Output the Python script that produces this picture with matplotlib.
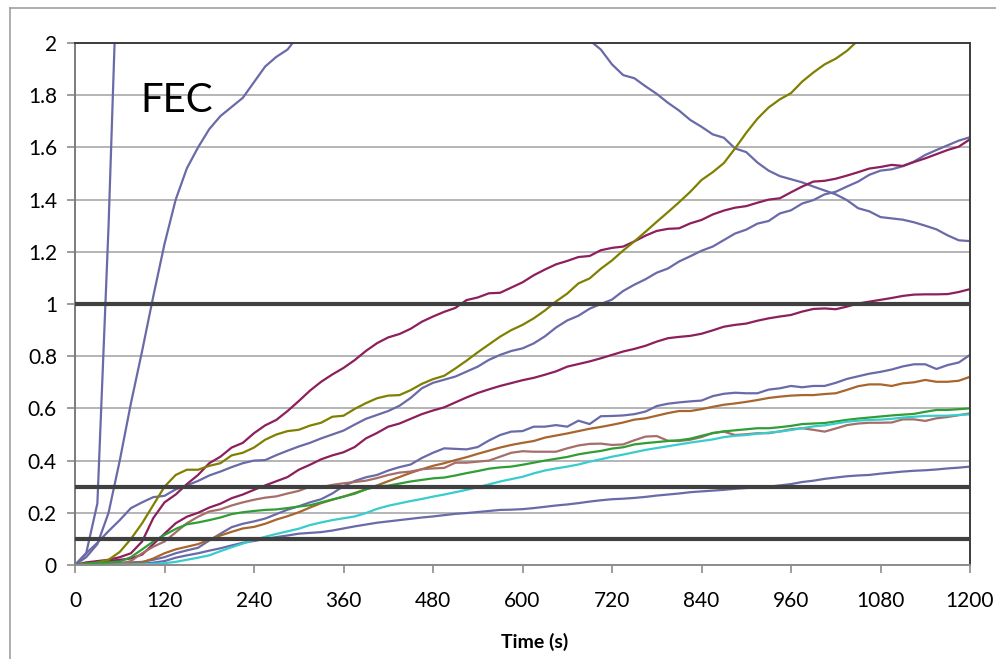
import numpy as np
import matplotlib
matplotlib.use("Agg")
import matplotlib.pyplot as plt
from matplotlib.lines import Line2D

plt.rcParams['font.family'] = ['Lato', 'DejaVu Sans']

# sample times (s)
time = list(range(0, 1201, 15))

# steep blue series (leaves the plot at the top)
steep_t = [0, 15, 30, 45, 60]
steep = [0, 0.045, 0.236, 1.3, 2.6]

# saturating blue series (first part, leaves at the top)
sat_t = list(range(0, 316, 15))
sat = [0, 0.03, 0.08, 0.2, 0.4, 0.62, 0.82, 1.03,
       1.23, 1.4, 1.52, 1.6, 1.67, 1.72, 1.755, 1.79,
       1.85, 1.91, 1.947, 1.975, 2.03, 2.08]

# descending blue series (re-enters from the top)
desc_t = list(range(675, 1201, 15))
desc = [2.05, 2.01, 1.975, 1.918, 1.877, 1.865, 1.834, 1.805, 1.771, 1.741,
        1.705, 1.679, 1.65, 1.637, 1.596, 1.582, 1.542, 1.511, 1.49, 1.478,
        1.466, 1.45, 1.435, 1.42, 1.398, 1.367, 1.355, 1.333, 1.328, 1.323,
        1.313, 1.3, 1.286, 1.263, 1.244, 1.241]

olive = [0, 0.005, 0.01, 0.02, 0.05, 0.10, 0.16, 0.23,
         0.30, 0.345, 0.365, 0.365, 0.38, 0.39, 0.42, 0.43,
         0.45, 0.48, 0.50, 0.513, 0.518, 0.534, 0.545, 0.568,
         0.572, 0.598, 0.62, 0.639, 0.649, 0.651, 0.67, 0.694,
         0.712, 0.725, 0.753, 0.783, 0.815, 0.845, 0.875, 0.9,
         0.92, 0.945, 0.975, 1.01, 1.04, 1.079, 1.098, 1.135,
         1.167, 1.205, 1.24, 1.277, 1.315, 1.352, 1.39, 1.43,
         1.475, 1.505, 1.54, 1.596, 1.656, 1.71, 1.753, 1.784,
         1.808, 1.852, 1.887, 1.918, 1.94, 1.97, 2.01, 2.05]

maroon_up = [0, 0.01, 0.015, 0.02, 0.03, 0.045, 0.09, 0.18,
             0.24, 0.27, 0.31, 0.345, 0.39, 0.415, 0.45, 0.468,
             0.505, 0.535, 0.556, 0.59, 0.628, 0.668, 0.702, 0.73,
             0.755, 0.785, 0.82, 0.85, 0.872, 0.885, 0.905, 0.932,
             0.952, 0.97, 0.985, 1.015, 1.025, 1.041, 1.043, 1.063,
             1.083, 1.11, 1.132, 1.152, 1.165, 1.18, 1.184, 1.206,
             1.215, 1.22, 1.24, 1.262, 1.28, 1.288, 1.29, 1.309,
             1.322, 1.343, 1.358, 1.369, 1.375, 1.388, 1.4, 1.405,
             1.428, 1.45, 1.469, 1.472, 1.48, 1.492, 1.505, 1.519,
             1.525, 1.533, 1.529, 1.544, 1.558, 1.574, 1.59, 1.603,
             1.631]

blue_up = [0, 0.045, 0.085, 0.13, 0.172, 0.218, 0.24, 0.26,
           0.265, 0.29, 0.305, 0.322, 0.343, 0.358, 0.375, 0.39,
           0.4, 0.402, 0.421, 0.438, 0.454, 0.468, 0.485, 0.5,
           0.515, 0.538, 0.56, 0.575, 0.59, 0.61, 0.64, 0.677,
           0.698, 0.71, 0.722, 0.741, 0.76, 0.786, 0.805, 0.82,
           0.83, 0.849, 0.876, 0.91, 0.937, 0.955, 0.982, 1.0,
           1.017, 1.05, 1.074, 1.095, 1.12, 1.136, 1.163, 1.183,
           1.204, 1.22, 1.245, 1.27, 1.285, 1.308, 1.318, 1.347,
           1.359, 1.385, 1.398, 1.42, 1.43, 1.45, 1.469, 1.495,
           1.511, 1.516, 1.528, 1.546, 1.571, 1.59, 1.608, 1.626,
           1.639]

maroon_low = [0, 0.005, 0.01, 0.015, 0.02, 0.025, 0.04, 0.08,
              0.12, 0.16, 0.185, 0.2, 0.22, 0.235, 0.256, 0.27,
              0.288, 0.305, 0.321, 0.337, 0.365, 0.384, 0.405, 0.42,
              0.432, 0.452, 0.485, 0.506, 0.53, 0.542, 0.56, 0.578,
              0.592, 0.604, 0.623, 0.642, 0.659, 0.673, 0.686, 0.697,
              0.708, 0.717, 0.729, 0.742, 0.76, 0.77, 0.78, 0.792,
              0.805, 0.818, 0.828, 0.84, 0.856, 0.869, 0.874, 0.878,
              0.886, 0.899, 0.913, 0.92, 0.925, 0.936, 0.945, 0.952,
              0.958, 0.971, 0.981, 0.983, 0.98, 0.99, 1.002, 1.009,
              1.016, 1.023, 1.031, 1.036, 1.037, 1.037, 1.038, 1.046,
              1.057]

blue_mid = [0, 0.002, 0.004, 0.006, 0.008, 0.01, 0.012, 0.02,
            0.03, 0.045, 0.056, 0.066, 0.094, 0.12, 0.145, 0.158,
            0.167, 0.178, 0.195, 0.212, 0.225, 0.24, 0.252, 0.274,
            0.302, 0.322, 0.336, 0.345, 0.362, 0.375, 0.385, 0.41,
            0.43, 0.447, 0.445, 0.443, 0.452, 0.477, 0.498, 0.511,
            0.513, 0.53, 0.53, 0.536, 0.53, 0.553, 0.54, 0.57,
            0.571, 0.573, 0.578, 0.588, 0.609, 0.618, 0.623, 0.627,
            0.63, 0.647, 0.656, 0.66, 0.658, 0.658, 0.672, 0.677,
            0.686, 0.681, 0.686, 0.686, 0.698, 0.713, 0.723, 0.733,
            0.74, 0.749, 0.761, 0.769, 0.769, 0.751, 0.766, 0.776,
            0.805]

brown = [0, 0, 0.001, 0.002, 0.004, 0.006, 0.01, 0.025,
         0.045, 0.06, 0.07, 0.08, 0.097, 0.113, 0.127, 0.14,
         0.146, 0.158, 0.174, 0.187, 0.202, 0.22, 0.237, 0.25,
         0.262, 0.276, 0.29, 0.305, 0.321, 0.337, 0.353, 0.367,
         0.38, 0.39, 0.402, 0.413, 0.426, 0.438, 0.45, 0.46,
         0.468, 0.475, 0.488, 0.496, 0.504, 0.513, 0.522, 0.529,
         0.537, 0.546, 0.557, 0.562, 0.572, 0.582, 0.59, 0.59,
         0.597, 0.606, 0.614, 0.619, 0.625, 0.632, 0.64, 0.645,
         0.649, 0.651, 0.651, 0.655, 0.658, 0.671, 0.685, 0.692,
         0.692, 0.686, 0.696, 0.7, 0.709, 0.702, 0.702, 0.706,
         0.721]

pink = [0, 0.001, 0.002, 0.003, 0.005, 0.015, 0.045, 0.07,
        0.09, 0.125, 0.16, 0.185, 0.205, 0.213, 0.228, 0.24,
        0.25, 0.258, 0.263, 0.274, 0.284, 0.3, 0.298, 0.307,
        0.313, 0.318, 0.323, 0.333, 0.345, 0.354, 0.358, 0.367,
        0.37, 0.372, 0.392, 0.392, 0.396, 0.4, 0.415, 0.43,
        0.436, 0.434, 0.434, 0.434, 0.447, 0.458, 0.464, 0.465,
        0.46, 0.462, 0.478, 0.492, 0.494, 0.476, 0.475, 0.48,
        0.49, 0.506, 0.511, 0.498, 0.501, 0.505, 0.505, 0.512,
        0.52, 0.524, 0.518, 0.511, 0.523, 0.536, 0.542, 0.545,
        0.545, 0.546, 0.558, 0.558, 0.552, 0.562, 0.567, 0.574,
        0.581]

green = [0, 0.005, 0.008, 0.01, 0.013, 0.03, 0.06, 0.09,
         0.115, 0.138, 0.156, 0.163, 0.172, 0.182, 0.195, 0.202,
         0.207, 0.211, 0.213, 0.218, 0.224, 0.229, 0.24, 0.251,
         0.262, 0.273, 0.29, 0.301, 0.304, 0.312, 0.32, 0.326,
         0.332, 0.335, 0.343, 0.352, 0.36, 0.369, 0.374, 0.377,
         0.384, 0.392, 0.4, 0.407, 0.414, 0.424, 0.431, 0.437,
         0.446, 0.451, 0.462, 0.467, 0.471, 0.475, 0.478, 0.484,
         0.495, 0.505, 0.512, 0.516, 0.52, 0.524, 0.524, 0.528,
         0.533, 0.54, 0.542, 0.544, 0.55, 0.556, 0.561, 0.565,
         0.569, 0.573, 0.576, 0.579, 0.587, 0.594, 0.594, 0.597,
         0.6]

cyan = [0, 0, 0, 0, 0.001, 0.002, 0.003, 0.004,
        0.007, 0.012, 0.02, 0.028, 0.037, 0.053, 0.068, 0.082,
        0.096, 0.108, 0.119, 0.129, 0.139, 0.153, 0.163, 0.172,
        0.179, 0.186, 0.199, 0.215, 0.227, 0.236, 0.245, 0.253,
        0.262, 0.27, 0.279, 0.288, 0.298, 0.309, 0.32, 0.329,
        0.338, 0.351, 0.362, 0.37, 0.377, 0.385, 0.396, 0.405,
        0.415, 0.423, 0.432, 0.441, 0.448, 0.455, 0.462, 0.469,
        0.475, 0.481, 0.49, 0.495, 0.498, 0.503, 0.507, 0.511,
        0.517, 0.524, 0.531, 0.535, 0.542, 0.549, 0.553, 0.556,
        0.557, 0.56, 0.565, 0.568, 0.571, 0.572, 0.572, 0.575,
        0.577]

blue_low = [0, 0, 0, 0.001, 0.002, 0.003, 0.005, 0.009,
            0.015, 0.028, 0.037, 0.045, 0.055, 0.064, 0.075, 0.085,
            0.092, 0.1, 0.107, 0.113, 0.12, 0.123, 0.126, 0.132,
            0.14, 0.148, 0.155, 0.162, 0.167, 0.172, 0.177, 0.182,
            0.186, 0.191, 0.196, 0.199, 0.203, 0.207, 0.211, 0.212,
            0.214, 0.218, 0.223, 0.228, 0.232, 0.237, 0.243, 0.248,
            0.252, 0.254, 0.257, 0.261, 0.266, 0.27, 0.274, 0.279,
            0.282, 0.285, 0.288, 0.292, 0.295, 0.297, 0.3, 0.305,
            0.31, 0.318, 0.323, 0.33, 0.335, 0.34, 0.343, 0.345,
            0.35, 0.354, 0.358, 0.361, 0.363, 0.366, 0.37, 0.373,
            0.377]

thresholds = [0.1, 0.3, 1.0]

x_ticks = [0, 120, 240, 360, 480, 600, 720, 840, 960, 1080, 1200]
y_ticks = [0, 0.2, 0.4, 0.6, 0.8, 1.0, 1.2, 1.4, 1.6, 1.8, 2.0]
y_labels = ['0', '0.2', '0.4', '0.6', '0.8', '1', '1.2', '1.4', '1.6', '1.8', '2']

# colours
C_BLUE = '#6A6AA8'
C_MAROON = '#8C1F5C'
C_OLIVE = '#808000'
C_PINK = '#A66E69'
C_BROWN = '#A8652D'
C_GREEN = '#2F9E34'
C_CYAN = '#38CCCC'

fig = plt.figure(figsize=(9.96, 6.59), dpi=100)
ax = fig.add_axes([75 / 996, 1 - 565 / 659, 895 / 996, 522 / 659])

lw = 1.6
ax.plot(steep_t, steep, color=C_BLUE, lw=lw)
ax.plot(sat_t, sat, color=C_BLUE, lw=lw)
ax.plot(desc_t, desc, color=C_BLUE, lw=lw)
ax.plot(time, blue_up, color=C_BLUE, lw=lw)
ax.plot(time, blue_mid, color=C_BLUE, lw=lw)
ax.plot(time, blue_low, color=C_BLUE, lw=lw)
ax.plot(time, maroon_up, color=C_MAROON, lw=lw)
ax.plot(time, maroon_low, color=C_MAROON, lw=lw)
ax.plot(time[:len(olive)], olive, color=C_OLIVE, lw=lw)
ax.plot(time, brown, color=C_BROWN, lw=lw)
ax.plot(time, pink, color=C_PINK, lw=lw)
ax.plot(time, green, color=C_GREEN, lw=lw)
ax.plot(time, cyan, color=C_CYAN, lw=lw)

for th in thresholds:
    ax.plot([time[0], time[-1]], [th, th], color='#404040', lw=3.0,
            solid_capstyle='butt', zorder=5)

ax.set_xlim(0, 1200)
ax.set_ylim(0, 2)
ax.set_xticks(x_ticks)
ax.set_yticks(y_ticks)
ax.set_yticklabels(y_labels)
ax.yaxis.grid(True, color='#A8A8A8', lw=1.2)
ax.set_axisbelow(True)

ax.tick_params(axis='x', direction='out', length=6, width=1.2, color='#8C8C8C',
               labelsize=15, pad=13)
ax.tick_params(axis='y', direction='out', length=6, width=1.2, color='#8C8C8C',
               labelsize=15, pad=7)

for side in ['top', 'right']:
    ax.spines[side].set_color('#3C3C3C')
    ax.spines[side].set_linewidth(1.4)
ax.spines['left'].set_color('#7C7C7C')
ax.spines['left'].set_linewidth(1.4)
ax.spines['bottom'].set_color('#8C8C8C')
ax.spines['bottom'].set_linewidth(1.4)

ax.text(88, 1.737, 'FEC', fontsize=29, color='black', ha='left', va='baseline')

fig.text(535 / 996, 1 - 642 / 659, 'Time (s)', fontsize=14, fontweight='bold',
         ha='center', va='center')

# outer chart frame
fig.add_artist(Line2D([9.5 / 996, 9.5 / 996], [0, 1 - 7.5 / 659],
                      transform=fig.transFigure, color='#A0A0A0', lw=1.2))
fig.add_artist(Line2D([9.5 / 996, 1], [1 - 7.5 / 659, 1 - 7.5 / 659],
                      transform=fig.transFigure, color='#A0A0A0', lw=1.2))

fig.savefig('out.png', dpi=100)
